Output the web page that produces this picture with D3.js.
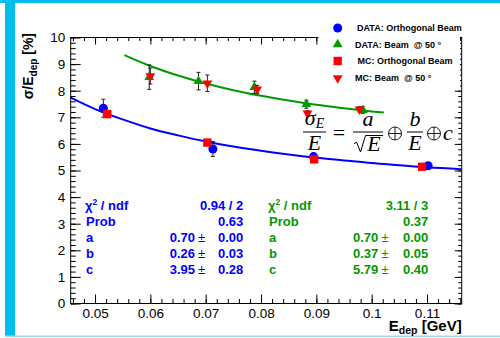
<!DOCTYPE html>
<html>
<head>
<meta charset="utf-8">
<script src="https://cdn.jsdelivr.net/npm/d3@7.9.0/dist/d3.min.js"></script>
<style>
  body { margin: 0; background: #fff; }
  svg { display: block; font-family: "Liberation Sans", Arial, Helvetica, sans-serif; }
</style>
</head>
<body>
<svg id="chart" width="500" height="338"></svg>
<script>
// data
const dataOrthE = [0.0515, 0.0713, 0.0895, 0.1102];
const dataOrthSigma = [7.34, 5.81, 5.52, 5.18];
const dataOrthErr = [0.34, 0.28, 0.15, 0.12];

const dataTiltE = [0.0598, 0.0687, 0.0788, 0.0882, 0.0984];
const dataTiltSigma = [8.51, 8.36, 8.13, 7.49, 7.27];
const dataTiltErr = [0.46, 0.33, 0.23, 0.15, 0.12];

const mcOrthE = [0.0522, 0.0703, 0.0896, 0.1091];
const mcOrthSigma = [7.12, 6.05, 5.42, 5.14];
const mcOrthErr = [0.08, 0.08, 0.08, 0.08];

const mcTiltE = [0.0600, 0.0703, 0.0793, 0.0884, 0.0978];
const mcTiltSigma = [8.55, 8.28, 8.05, 7.15, 7.30];
const mcTiltErr = [0.30, 0.31, 0.15, 0.10, 0.10];

// fit curves (sampled)
const fitOrthE = [0.0456, 0.05, 0.055, 0.06, 0.065, 0.07, 0.075, 0.08, 0.085, 0.09, 0.095, 0.10, 0.105, 0.11, 0.1162];
const fitOrthSigma = [7.74, 7.31, 6.92, 6.58, 6.32, 6.09, 5.90, 5.74, 5.60, 5.48, 5.38, 5.28, 5.20, 5.12, 5.05];
const fitTiltE = [0.0553, 0.06, 0.065, 0.07, 0.075, 0.08, 0.085, 0.09, 0.095, 0.10, 0.1022];
const fitTiltSigma = [9.34, 8.93, 8.57, 8.27, 8.02, 7.81, 7.63, 7.47, 7.34, 7.22, 7.18];

// ticks
const xTickValues = [0.05, 0.06, 0.07, 0.08, 0.09, 0.10, 0.11];
const xTickLabels = ['0.05', '0.06', '0.07', '0.08', '0.09', '0.1', '0.11'];
const yTickValues = [0, 1, 2, 3, 4, 5, 6, 7, 8, 9, 10];

// legend + stats
const legendLabels = ['DATA: Orthogonal Beam', 'DATA: Beam  @ 50 °', 'MC: Orthogonal Beam', 'MC: Beam  @ 50 °'];
const statNames = ['Prob', 'a', 'b', 'c'];
const statsOrth = { chi: '0.94 / 2', prob: '0.63', vals: ['0.70', '0.26', '3.95'], errs: ['0.00', '0.03', '0.28'] };
const statsTilt = { chi: '3.11 / 3', prob: '0.37', vals: ['0.70', '0.37', '5.79'], errs: ['0.00', '0.05', '0.40'] };

const BLUE = '#0000ff', GREEN = '#009a00', RED = '#ff0000';

const svg = d3.select('#chart');

// cyan page decorations
svg.append('rect').attr('x', 0).attr('y', 0).attr('width', 500).attr('height', 3).attr('fill', '#00bdf0');
svg.append('rect').attr('x', 5).attr('y', 3).attr('width', 10).attr('height', 333).attr('fill', '#00bdf0');
svg.append('rect').attr('x', 5).attr('y', 335.5).attr('width', 495).attr('height', 1.5).attr('fill', '#9fdcf4');

const x = d3.scaleLinear().domain([0.0456, 0.11627]).range([70.7, 461.7]);
const y = d3.scaleLinear().domain([0, 10]).range([303.5, 37.5]);

const xMinor = d3.range(0.046, 0.1163, 0.002);
const yMinor = d3.range(0, 10.01, 0.2);

function axisStyle(g) {
  g.attr('font-family', '"Liberation Sans", Arial, sans-serif').attr('font-size', 13.5);
  g.select('.domain').remove();
  g.selectAll('line').attr('stroke', '#000');
}

// bottom axis
svg.append('g').attr('transform', `translate(0,${y(0)})`)
  .call(d3.axisBottom(x).tickValues(xMinor).tickSizeInner(-4.5).tickSizeOuter(0).tickFormat(''))
  .call(axisStyle);
svg.append('g').attr('transform', `translate(0,${y(0)})`)
  .call(d3.axisBottom(x).tickValues(xTickValues).tickSizeInner(-9).tickSizeOuter(0).tickPadding(5)
    .tickFormat((d, i) => xTickLabels[i]))
  .call(axisStyle);

// top axis
svg.append('g').attr('transform', `translate(0,${y(10)})`)
  .call(d3.axisTop(x).tickValues(xMinor).tickSizeInner(-3.5).tickSizeOuter(0).tickFormat(''))
  .call(axisStyle);
svg.append('g').attr('transform', `translate(0,${y(10)})`)
  .call(d3.axisTop(x).tickValues(xTickValues).tickSizeInner(-7).tickSizeOuter(0).tickFormat(''))
  .call(axisStyle);

// left axis
svg.append('g').attr('transform', `translate(${x.range()[0]},0)`)
  .call(d3.axisLeft(y).tickValues(yMinor).tickSizeInner(-5).tickSizeOuter(0).tickFormat(''))
  .call(axisStyle);
svg.append('g').attr('transform', `translate(${x.range()[0]},0)`)
  .call(d3.axisLeft(y).tickValues(yTickValues).tickSizeInner(-10).tickSizeOuter(0).tickPadding(5.5)
    .tickFormat(d3.format('d')))
  .call(axisStyle);

// right axis
svg.append('g').attr('transform', `translate(${x.range()[1]},0)`)
  .call(d3.axisRight(y).tickValues(yMinor).tickSizeInner(-3.5).tickSizeOuter(0).tickFormat(''))
  .call(axisStyle);
svg.append('g').attr('transform', `translate(${x.range()[1]},0)`)
  .call(d3.axisRight(y).tickValues(yTickValues).tickSizeInner(-7).tickSizeOuter(0).tickFormat(''))
  .call(axisStyle);

// frame
svg.append('rect')
  .attr('x', x.range()[0]).attr('y', y(10))
  .attr('width', x.range()[1] - x.range()[0]).attr('height', y(0) - y(10))
  .attr('fill', 'none').attr('stroke', '#000').attr('stroke-width', 1);

// fit curves
const line = d3.line().x(d => x(d[0])).y(d => y(d[1])).curve(d3.curveMonotoneX);
svg.append('path').datum(d3.zip(fitOrthE, fitOrthSigma))
  .attr('d', line).attr('fill', 'none').attr('stroke', BLUE).attr('stroke-width', 2);
svg.append('path').datum(d3.zip(fitTiltE, fitTiltSigma))
  .attr('d', line).attr('fill', 'none').attr('stroke', GREEN).attr('stroke-width', 2);

// series drawing
function drawSeries(es, vals, errs, symbol, size, color, rot) {
  const pts = d3.zip(es, vals, errs);
  const g = svg.append('g');
  g.selectAll('line.err').data(pts).join('line')
    .attr('x1', d => x(d[0])).attr('x2', d => x(d[0]))
    .attr('y1', d => y(d[1] + d[2])).attr('y2', d => y(d[1] - d[2]))
    .attr('stroke', '#222').attr('stroke-width', 1);
  [1, -1].forEach(s => {
    g.selectAll(null).data(pts).join('line')
      .attr('x1', d => x(d[0]) - 2).attr('x2', d => x(d[0]) + 2)
      .attr('y1', d => y(d[1] + s * d[2])).attr('y2', d => y(d[1] + s * d[2]))
      .attr('stroke', '#222').attr('stroke-width', 1);
  });
  g.selectAll('path').data(pts).join('path')
    .attr('d', d3.symbol(symbol, size))
    .attr('transform', d => `translate(${x(d[0])},${y(d[1])}) rotate(${rot})`)
    .attr('fill', color);
}

drawSeries(dataOrthE, dataOrthSigma, dataOrthErr, d3.symbolCircle, 64, BLUE, 0);
drawSeries(mcOrthE, mcOrthSigma, mcOrthErr, d3.symbolSquare, 70, RED, 0);
drawSeries(dataTiltE, dataTiltSigma, dataTiltErr, d3.symbolTriangle, 42, GREEN, 0);
drawSeries(mcTiltE, mcTiltSigma, mcTiltErr, d3.symbolTriangle, 42, RED, 180);

// legend box (white, covers top-right frame)
svg.append('rect').attr('x', 318.5).attr('y', 14).attr('width', 141.5).attr('height', 74).attr('fill', '#fff');
const legendSymbols = [
  [d3.symbolCircle, 64, BLUE, 0],
  [d3.symbolTriangle, 42, GREEN, 0],
  [d3.symbolSquare, 70, RED, 0],
  [d3.symbolTriangle, 42, RED, 180]
];
const legendY = [28, 44.5, 61, 78];
const legendTextX = [357, 355, 357.5, 355];
legendLabels.forEach((lab, i) => {
  const [sym, size, col, rot] = legendSymbols[i];
  svg.append('path').attr('d', d3.symbol(sym, size))
    .attr('transform', `translate(337.7,${legendY[i]}) rotate(${rot})`).attr('fill', col);
  svg.append('text').attr('x', legendTextX[i]).attr('y', legendY[i] + 3.2)
    .attr('font-size', 9).attr('font-weight', 'bold').attr('fill', '#000')
    .style('white-space', 'pre').text(lab);
});

// axis titles
const xt = svg.append('text').attr('x', 461.7).attr('y', 330.5).attr('text-anchor', 'end')
  .attr('font-size', 15).attr('font-weight', 'bold');
xt.append('tspan').text('E');
xt.append('tspan').attr('font-size', 10.5).attr('dy', 3.5).text('dep');
xt.append('tspan').attr('dy', -3.5).text(' [GeV]');

const yt = svg.append('text').attr('transform', 'translate(33,33) rotate(-90)').attr('text-anchor', 'end')
  .attr('font-size', 14).attr('font-weight', 'bold');
yt.append('tspan').text('σ/E');
yt.append('tspan').attr('font-size', 10).attr('dy', 4).text('dep');
yt.append('tspan').attr('dy', -4).text(' [%]');

// stats boxes
function drawStats(st, color, xl, xr, xpm, xv) {
  const g = svg.append('g').attr('fill', color).attr('font-size', 13).attr('font-weight', 'bold');
  const base = 209.5, step = 16.2;
  const chi = g.append('text').attr('x', xl).attr('y', base);
  chi.append('tspan').text('χ');
  chi.append('tspan').attr('font-size', 8.5).attr('dy', -5).text('2');
  chi.append('tspan').attr('dy', 5).text(' / ndf');
  g.append('text').attr('x', xr).attr('y', base).attr('text-anchor', 'end').text(st.chi);
  statNames.forEach((n, i) => {
    g.append('text').attr('x', xl + 1).attr('y', base + step * (i + 1)).text(n);
  });
  g.append('text').attr('x', xr).attr('y', base + step).attr('text-anchor', 'end').text(st.prob);
  st.vals.forEach((v, i) => {
    const yy = base + step * (i + 2);
    g.append('text').attr('x', xv).attr('y', yy).attr('text-anchor', 'end').text(v);
    g.append('text').attr('x', xpm).attr('y', yy).attr('text-anchor', 'middle').attr('font-weight', 'normal').text('±');
    g.append('text').attr('x', xr).attr('y', yy).attr('text-anchor', 'end').text(st.errs[i]);
  });
}
drawStats(statsOrth, BLUE, 85, 243.3, 201.5, 195);
drawStats(statsTilt, GREEN, 268, 428.3, 385, 378.3);

// formula sigma_E/E = a/sqrt(E) (+) b/E (+) c
const fm = svg.append('g').attr('font-family', '"Liberation Serif", "DejaVu Serif", serif')
  .attr('font-size', 22).attr('font-style', 'italic').attr('fill', '#000');
const fracY = 132;
const numY = 126;
const denY = 150;
function frac(cx, w, num, den) {
  fm.append('line').attr('x1', cx - w / 2).attr('x2', cx + w / 2).attr('y1', fracY).attr('y2', fracY)
    .attr('stroke', '#000').attr('stroke-width', 1);
  num(cx);
  den(cx);
}
frac(314.5, 23, cx => {
  const t = fm.append('text').attr('x', cx).attr('y', numY - 1).attr('text-anchor', 'middle');
  t.append('tspan').text('σ');
  t.append('tspan').attr('font-size', 14).attr('dy', 2.5).text('E');
}, cx => fm.append('text').attr('x', cx).attr('y', denY).attr('text-anchor', 'middle').text('E'));
fm.append('text').attr('x', 339).attr('y', 139.5).attr('text-anchor', 'middle').attr('font-style', 'normal').text('=');
frac(368, 30, cx => fm.append('text').attr('x', cx).attr('y', numY).attr('text-anchor', 'middle').text('a'),
  cx => {
    fm.append('path').attr('d', `M${cx - 14},${144} L${cx - 11.5},${142} L${cx - 7.5},${152} L${cx - 2.5},${135.5} L${cx + 15},${135.5}`)
      .attr('fill', 'none').attr('stroke', '#000').attr('stroke-width', 1);
    fm.append('text').attr('x', cx + 6).attr('y', denY + 1).attr('text-anchor', 'middle').text('E');
  });
function oplus(cx, cy) {
  fm.append('circle').attr('cx', cx).attr('cy', cy).attr('r', 6.5).attr('fill', 'none').attr('stroke', '#000').attr('stroke-width', 0.9);
  fm.append('line').attr('x1', cx - 6.5).attr('x2', cx + 6.5).attr('y1', cy).attr('y2', cy).attr('stroke', '#000').attr('stroke-width', 0.9);
  fm.append('line').attr('x1', cx).attr('x2', cx).attr('y1', cy - 6.5).attr('y2', cy + 6.5).attr('stroke', '#000').attr('stroke-width', 0.9);
}
oplus(395, 133.5);
frac(415, 16, cx => fm.append('text').attr('x', cx).attr('y', numY).attr('text-anchor', 'middle').text('b'),
  cx => fm.append('text').attr('x', cx).attr('y', denY).attr('text-anchor', 'middle').text('E'));
oplus(434, 133.5);
fm.append('text').attr('x', 448).attr('y', 140).attr('text-anchor', 'middle').text('c');
</script>
</body>
</html>
